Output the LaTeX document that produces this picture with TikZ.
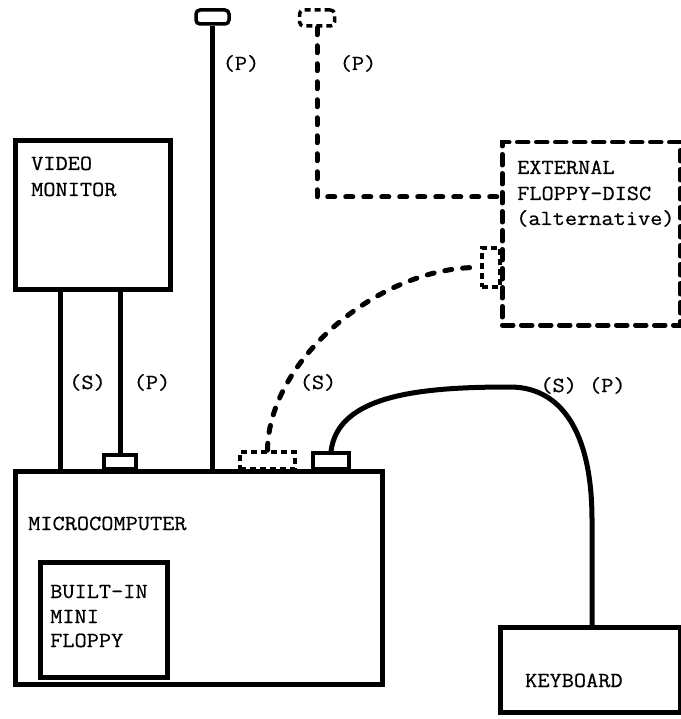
\documentclass[tikz,border=0pt]{standalone}
\usepackage{fontspec}
\newfontfamily\twfont[FakeStretch=1.1,FakeBold=0.6]{Latin Modern Mono}
\tikzset{
  box/.style={draw, line width=5pt, inner sep=0pt, anchor=north west},
  dbox/.style={box, line width=4.5pt, dash pattern=on 11pt off 8pt, line cap=round},
  plug/.style={draw, line width=3.5pt, inner sep=0pt},
  dplug/.style={plug, dash pattern=on 6pt off 4pt},
  lbl/.style={font=\twfont\fontsize{21.5}{24}\selectfont, inner sep=0pt, anchor=base west},
  clbl/.style={lbl, anchor=base},
  cable/.style={line width=5pt},
  dcable/.style={line width=5pt, dash pattern=on 7pt off 11pt, line cap=round},
}
\begin{document}
\begin{tikzpicture}[x=1pt,y=-1pt]
\useasboundingbox (0,0) rectangle (680,719);
% boxes
\node[box, minimum width=155pt, minimum height=149pt] (mon) at (13,138) {};
\node[box, minimum width=367pt, minimum height=213pt] (micro) at (13,469) {};
\node[box, minimum width=127pt, minimum height=115pt] (floppy) at (38,560) {};
\node[box, minimum width=180pt, minimum height=85pt] (kb) at (498,625) {};
\node[dbox, minimum width=178pt, minimum height=183pt] (ext) at (500,140) {};
% plugs
\node[plug, rounded corners=4pt, minimum width=33pt, minimum height=14pt] (ant) at (212.5,17) {};
\node[dplug, rounded corners=4pt, minimum width=35pt, minimum height=16pt] (dant) at (317,18) {};
\node[plug, minimum width=32pt, minimum height=14pt] (pconn) at (120,462) {};
\node[dplug, minimum width=55pt, minimum height=17pt] (dconn) at (267.5,460.5) {};
\node[plug, minimum width=36pt, minimum height=16pt] (kconn) at (331,461) {};
\node[dplug, minimum width=18pt, minimum height=39pt] (econn) at (491,267.5) {};
% texts
\node[lbl] (t1) at (31,170) {VIDEO};
\node[lbl] (t2) at (31,196) {MONITOR};
\node[lbl] (t3) at (28,530) {MICROCOMPUTER};
\node[lbl] (t4) at (50,598) {BUILT-IN};
\node[lbl] (t5) at (50,623) {MINI};
\node[lbl] (t6) at (50,647) {FLOPPY};
\node[lbl] (t7) at (517,174) {EXTERNAL};
\node[lbl] (t8) at (517,200) {FLOPPY-DISC};
\node[lbl] (t9) at (516,225) {(alternative)};
\node[lbl] (t10) at (525,687) {KEYBOARD};
\node[clbl] (l1) at (241,70) {(P)};
\node[clbl] (l2) at (358,70) {(P)};
\node[clbl] (l3) at (87.5,389) {(S)};
\node[clbl] (l4) at (152,389) {(P)};
\node[clbl] (l5) at (318,389) {(S)};
\node[clbl] (l6) at (583,392) {(S) (P)};
% cables
\draw[cable] ([xshift=47pt]mon.south west) -- ([xshift=47pt]micro.north west);
\draw[cable] (pconn.north) -- (pconn.north |- mon.south);
\draw[cable] (ant.south) -- (ant.south |- micro.north);
\draw[dcable] (dant.south) |- ([yshift=-57pt]ext.north west);
\draw[dcable] (dconn.north) .. controls +(1,-92) and +(-98,-2) .. (econn.west);
\draw[cable] (kconn.north) .. controls (338,395) and (420,387) .. (510,387)
  .. controls (560,387) and (592,430) .. (592,520) -- (kb.north -| 592,0);
\end{tikzpicture}
\end{document}
